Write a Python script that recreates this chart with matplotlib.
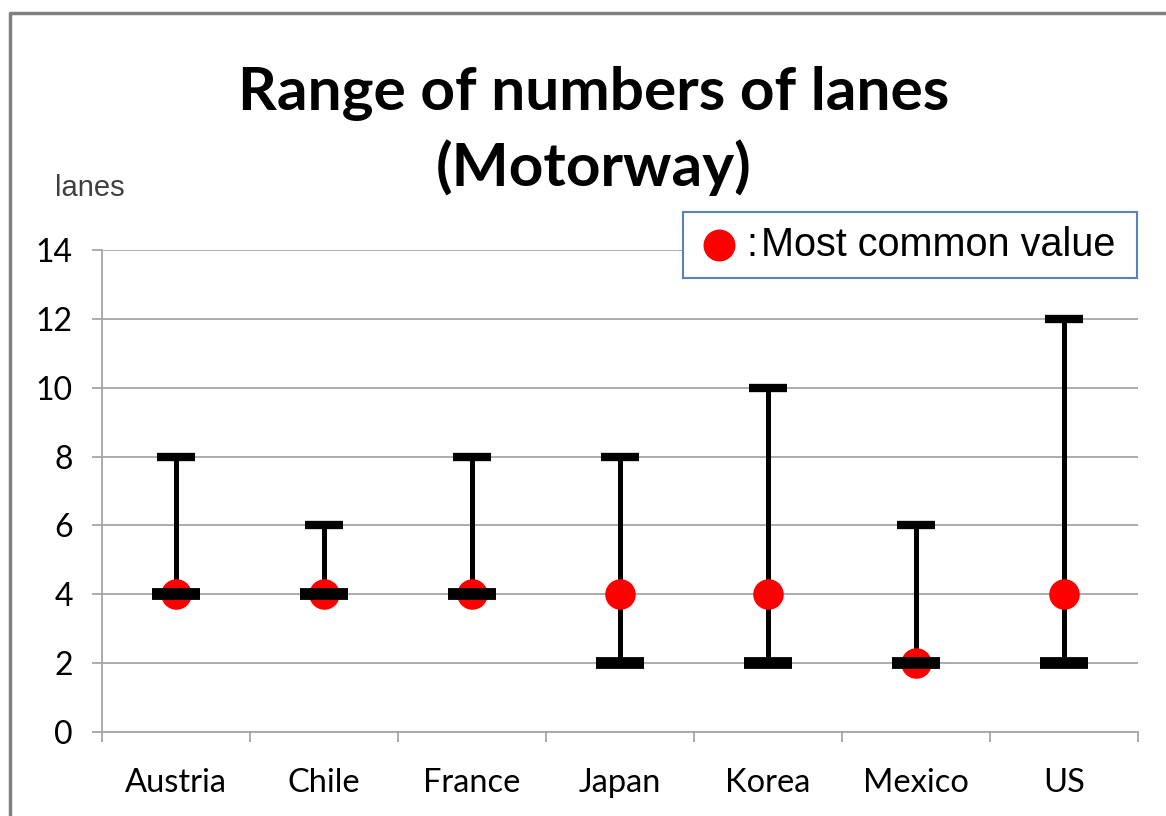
import matplotlib.pyplot as plt
from matplotlib.lines import Line2D
from matplotlib.patches import Rectangle

# lanes per country: min, max and most common value
countries = ['Austria', 'Chile', 'France', 'Japan', 'Korea', 'Mexico', 'US']
low = [4, 4, 4, 2, 2, 2, 2]
high = [8, 6, 8, 8, 10, 6, 12]
mode = [4, 4, 4, 4, 4, 2, 4]

W, H = 1166, 816
fig = plt.figure(figsize=(W / 100, H / 100), dpi=100)
ax = fig.add_axes([102 / W, 1 - 732 / H, 1036 / W, 482 / H])

x = list(range(len(countries)))
grid_col = '#a6a6a6'

# range lines, most common dot, then caps on top
ax.vlines(x, low, high, color='black', linewidth=3.6, zorder=3)
ax.plot(x, mode, 'o', color='#ff0000', markersize=22, markeredgewidth=0, zorder=4)
ax.plot(x, high, '_', color='black', markersize=27, markeredgewidth=6, zorder=5)
ax.plot(x, low, '_', color='black', markersize=34, markeredgewidth=8.5, zorder=5)

ax.set_xlim(-0.5, len(countries) - 0.5)
ax.set_ylim(0, 14)
ax.set_yticks(range(0, 15, 2))
ax.yaxis.grid(True, color=grid_col, linewidth=1.3)
ax.set_axisbelow(True)

ax.set_xticks(x)
ax.set_xticklabels(countries, fontsize=23.5, family='Lato')
ax.set_xticks([i - 0.5 for i in range(len(countries) + 1)], minor=True)
ax.tick_params(axis='x', which='major', length=0, pad=26)
ax.tick_params(axis='x', which='minor', length=7, width=1.3, color=grid_col, direction='out')
ax.tick_params(axis='y', length=7, width=1.3, color=grid_col, labelsize=23, pad=14)
for lab in ax.get_yticklabels():
    lab.set_family('Lato')

for s in ['top', 'right']:
    ax.spines[s].set_visible(False)
for s in ['left', 'bottom']:
    ax.spines[s].set_color(grid_col)
    ax.spines[s].set_linewidth(1.3)

fig.text(594 / W, 1 - 131 / H, 'Range of numbers of lanes\n(Motorway)',
         ha='center', va='center', fontsize=43.5, fontweight='bold',
         family='Lato', linespacing=1.38)

fig.text(55 / W, 1 - 188 / H, 'lanes', ha='left', va='center',
         fontsize=21, color='#404040', family='Liberation Sans')

# legend box
fig.add_artist(Rectangle((683 / W, 1 - 278 / H), 454 / W, 66 / H,
                         transform=fig.transFigure, facecolor='white',
                         edgecolor='#5b82c0', linewidth=1.5, zorder=6))
fig.add_artist(Line2D([719 / W], [1 - 245 / H], marker='o', color='#ff0000',
                      markersize=23, markeredgewidth=0, transform=fig.transFigure, zorder=7))
fig.text(746 / W, 1 - 245 / H, ':', ha='left', va='center',
         fontsize=28.5, family='Liberation Sans', zorder=7)
fig.text(761 / W, 1 - 245 / H, 'Most common value', ha='left', va='center',
         fontsize=28.5, family='Liberation Sans', zorder=7)

# outer frame (left and top edges)
fig.add_artist(Line2D([10 / W, 10 / W, 1], [0, 1 - 13 / H, 1 - 13 / H],
                      color='#808080', linewidth=2.5, transform=fig.transFigure))

fig.savefig('out.png', dpi=100)
